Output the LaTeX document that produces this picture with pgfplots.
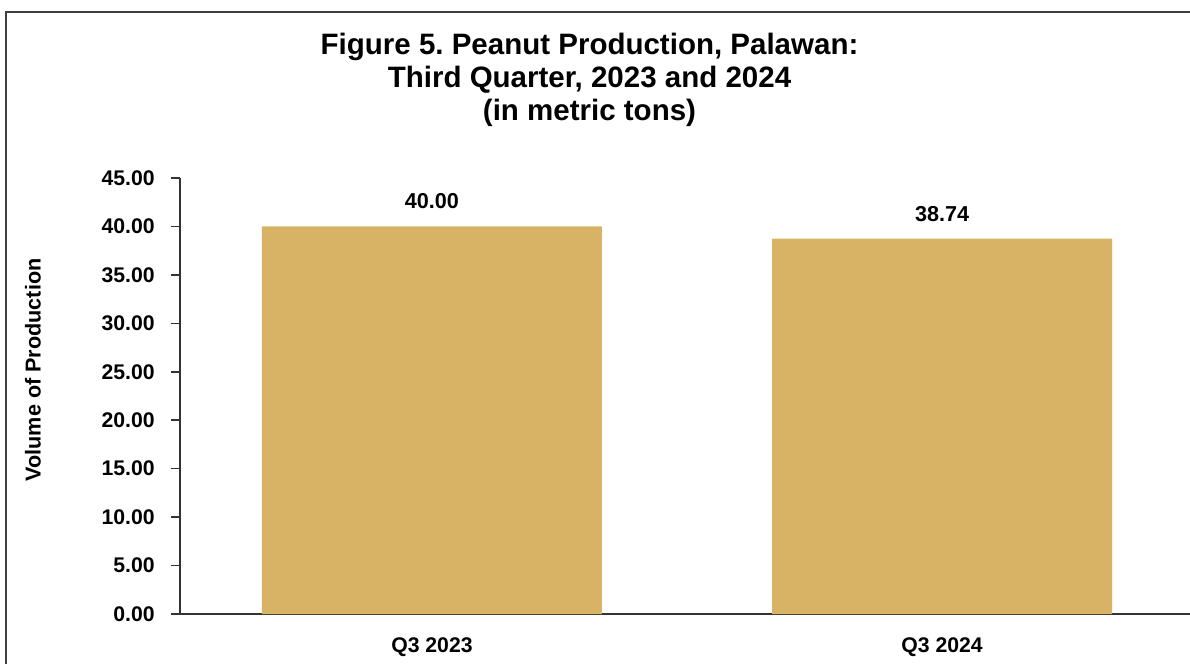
\documentclass[border=0pt]{standalone}
\usepackage{fontspec}
\setmainfont{Liberation Sans}
\usepackage{pgfplots}
\pgfplotsset{compat=1.18}
\definecolor{barcol}{HTML}{D8B365}
\definecolor{framecol}{HTML}{3F3F3F}
\frenchspacing
\begin{document}
\begin{tikzpicture}
\useasboundingbox (0,0) rectangle (595bp,332bp);
\draw[framecol, line width=1bp] (3bp,-5bp) rectangle (600bp,326bp);
\node[anchor=base, font=\fontsize{14.75bp}{16.5bp}\selectfont\bfseries] at (294.75bp,304.5bp) {Figure 5. Peanut Production, Palawan:};
\node[anchor=base, font=\fontsize{14.75bp}{16.5bp}\selectfont\bfseries] at (294.75bp,288bp) {Third Quarter, 2023 and 2024};
\node[anchor=base, font=\fontsize{14.75bp}{16.5bp}\selectfont\bfseries] at (294.75bp,271.5bp) {(in metric tons)};
\begin{axis}[
  at={(90bp,25bp)}, anchor=south west,
  scale only axis, width=507bp, height=218bp,
  xmin=-0.494, xmax=1.494, ymin=0, ymax=45,
  axis x line=bottom, axis y line=left,
  axis line style={-, line width=0.75bp, color=black!80},
  xtick={0,1}, xticklabels={Q3 2023, Q3 2024},
  ytick={0,5,...,45},
  tick align=outside,
  major tick length=4.5bp,
  x tick style={draw=none},
  y tick style={line width=0.75bp, color=black!80},
  /pgf/number format/assume math mode=true,
  yticklabel={\pgfmathprintnumber[fixed,fixed zerofill,precision=2]{\tick}},
  ticklabel style={font=\fontsize{10.6bp}{12bp}\selectfont\bfseries, color=black},
  yticklabel style={anchor=east, inner sep=0pt, xshift=-8bp},
  xticklabel style={anchor=base, inner sep=0pt, yshift=-14.5bp},
  ylabel={Volume of Production},
  ylabel style={at={(axis description cs:-0.145,0.56)}, anchor=center, rotate=0, font=\fontsize{10.8bp}{12bp}\selectfont\bfseries, color=black},
  clip=false,
]
\addplot[ybar, bar width=170bp, fill=barcol, draw=none,
  nodes near coords={\pgfmathprintnumber[fixed,fixed zerofill,precision=2]{\pgfplotspointmeta}},
  every node near coord/.append style={anchor=center, yshift=12.5bp, font=\fontsize{10.8bp}{12bp}\selectfont\bfseries, color=black}]
  coordinates {(0,40.00) (1,38.74)};
\end{axis}
\end{tikzpicture}
\end{document}
